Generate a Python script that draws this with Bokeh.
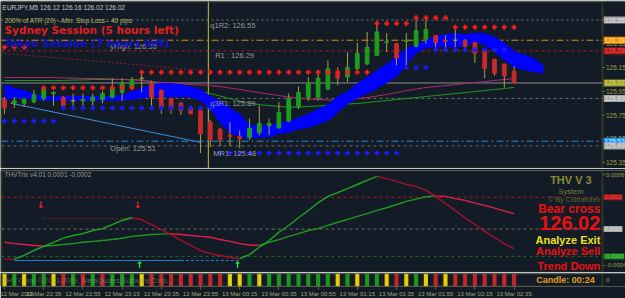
from bokeh.plotting import figure
from bokeh.layouts import column
from bokeh.models import Span, Label, FixedTicker, Range1d, BoxAnnotation
from bokeh.core.properties import value
from bokeh.embed import file_html
from bokeh.resources import INLINE

# ---------------- data ----------------
time_label_idx = [0, 4, 8, 12, 16, 20, 24, 28, 32, 36, 40, 44, 48, 52]
time_labels = ["12 Mar 2009", "12 Mar 22:35", "12 Mar 22:55", "12 Mar 23:15", "12 Mar 23:35",
               "12 Mar 23:55", "13 Mar 00:15", "13 Mar 00:35", "13 Mar 00:55", "13 Mar 01:15",
               "13 Mar 01:35", "13 Mar 01:55", "13 Mar 02:15", "13 Mar 02:35"]

opens = [125.88, 125.85, 125.85, 125.86, 125.89, 125.93, 125.90, 125.87, 125.87, 125.87, 125.88, 125.90, 125.94,
         125.98, 126.06, 126.02, 125.96, 125.89, 125.85, 125.81, 125.79, 125.69, 125.63, 125.58, 125.57, 125.56,
         125.60, 125.66, 125.64, 125.70, 125.82, 125.90, 125.90, 125.97, 126.10, 126.07, 126.14, 126.18, 126.25,
         126.36, 126.35, 126.37, 126.33, 126.39, 126.42, 126.38, 126.38, 126.38, 126.36, 126.29, 126.22, 126.18, 126.12]
highs = [125.90, 125.90, 125.89, 125.96, 125.98, 125.95, 125.91, 125.93, 125.93, 125.93, 125.95, 126.06, 126.06,
         126.07, 126.10, 126.04, 125.96, 125.89, 125.86, 125.83, 125.80, 125.71, 125.64, 125.69, 125.62, 125.72,
         125.83, 125.72, 125.86, 125.93, 125.99, 126.07, 126.12, 126.21, 126.15, 126.28, 126.36, 126.45, 126.52,
         126.44, 126.36, 126.44, 126.55, 126.56, 126.42, 126.42, 126.47, 126.39, 126.36, 126.31, 126.22, 126.18, 126.16]
lows = [125.76, 125.81, 125.82, 125.85, 125.87, 125.83, 125.80, 125.81, 125.81, 125.81, 125.85, 125.89, 125.87,
        125.97, 125.94, 125.81, 125.76, 125.76, 125.75, 125.76, 125.43, 125.48, 125.49, 125.49, 125.47, 125.54,
        125.58, 125.58, 125.64, 125.69, 125.80, 125.87, 125.87, 125.96, 126.00, 126.03, 126.11, 126.17, 126.25,
        126.28, 126.17, 126.17, 126.32, 126.35, 126.32, 126.32, 126.32, 126.29, 126.19, 126.06, 126.08, 125.98, 126.02]
closes = [125.81, 125.87, 125.88, 125.92, 125.97, 125.94, 125.83, 125.87, 125.88, 125.90, 125.93, 125.98, 126.02,
          126.04, 126.06, 125.90, 125.81, 125.80, 125.79, 125.76, 125.59, 125.54, 125.54, 125.57, 125.55, 125.64,
          125.68, 125.68, 125.77, 125.89, 125.94, 126.02, 126.06, 126.14, 126.06, 126.15, 126.27, 126.32, 126.45,
          126.37, 126.23, 126.38, 126.46, 126.47, 126.36, 126.37, 126.38, 126.33, 126.27, 126.14, 126.10, 126.08, 126.02]

ribbon_top = [126.01, 125.98, 125.96, 125.93, 125.91, 125.91, 125.91, 125.91, 125.91, 125.91, 125.91, 125.91,
              125.92, 125.95, 125.98, 126.01, 126.02, 126.02, 126.01, 125.99, 125.97, 125.91, 125.87, 125.81,
              125.76, 125.67, 125.66, 125.67, 125.69, 125.70, 125.73, 125.76, 125.80, 125.84, 125.91, 125.95,
              126.02, 126.07, 126.13, 126.18, 126.25, 126.31, 126.35, 126.38, 126.42, 126.43, 126.44, 126.43,
              126.44, 126.44, 126.41, 126.36, 126.29, 126.26, 126.23, 126.17]
ribbon_bottom = [125.88, 125.89, 125.89, 125.88, 125.87, 125.87, 125.87, 125.87, 125.87, 125.87, 125.87, 125.87,
                 125.87, 125.88, 125.89, 125.90, 125.90, 125.90, 125.90, 125.90, 125.87, 125.80, 125.68, 125.60,
                 125.56, 125.55, 125.56, 125.56, 125.59, 125.60, 125.63, 125.64, 125.67, 125.70, 125.77, 125.84,
                 125.89, 125.93, 125.97, 126.02, 126.07, 126.17, 126.27, 126.31, 126.32, 126.32, 126.32, 126.33,
                 126.36, 126.34, 126.28, 126.21, 126.15, 126.13, 126.11, 126.10]

ma_slow = [126.066, 126.066, 126.066, 126.066, 126.066, 126.066, 126.062, 126.062, 126.057, 126.057, 126.057,
           126.053, 126.049, 126.045, 126.041, 126.032, 126.024, 126.019, 126.015, 126.007, 126.003, 125.998,
           125.990, 125.977, 125.965, 125.952, 125.939, 125.927, 125.914, 125.902, 125.893, 125.885, 125.881,
           125.876, 125.876, 125.881, 125.889, 125.897, 125.910, 125.923, 125.939, 125.956, 125.969, 125.982,
           125.990, 125.998, 126.007, 126.015, 126.024, 126.032, 126.041, 126.049, 126.057]
ma_fast = [126.041, 126.041, 126.041, 126.041, 126.041, 126.041, 126.041, 126.045, 126.045, 126.049, 126.049,
           126.049, 126.049, 126.049, 126.045, 126.032, 126.015, 125.998, 125.982, 125.965, 125.948, 125.931,
           125.910, 125.889, 125.868, 125.851, 125.838, 125.830, 125.822, 125.817, 125.817, 125.822, 125.826,
           125.830, 125.838, 125.843, 125.847, 125.855, 125.864, 125.872, 125.881, 125.889, 125.897, 125.906,
           125.914, 125.923, 125.931, 125.939, 125.948, 125.956, 125.965, 125.973, 125.982]

trend_x = [0.6, 20.0]
trend_y = [125.85, 125.52]
diag_x = [0.0, 21.0]
diag_y = [126.27, 126.12]
day_separator = 20.8

red_stop_x = [0, 1, 2, 4, 5, 6, 7, 8, 9, 10, 11, 12, 13, 14, 15, 16, 17, 18, 19, 20, 21, 22, 23, 24, 25, 26, 27,
              28, 29, 30, 31, 32, 33, 34, 35, 36, 37, 38, 39, 40, 41, 42, 43, 44, 45, 46, 47, 48, 49, 50, 51, 52]
red_stop_y = [126.32, 126.32, 126.32, 125.98, 125.98, 125.98, 125.98, 125.98, 125.98, 125.98, 125.98, 125.98,
              125.98, 126.11, 126.11, 126.11, 126.11, 126.11, 126.11, 126.11, 126.11, 126.11, 126.11, 126.11,
              126.11, 126.11, 126.11, 126.11, 126.11, 126.11, 126.11, 126.11, 126.11, 126.11, 126.11, 126.11,
              126.11, 126.52, 126.52, 126.52, 126.52, 126.57, 126.57, 126.57, 126.57, 126.49, 126.49, 126.49,
              126.49, 126.49, 126.49, 126.49]
blue_stop_x = [0, 1, 2, 3, 4, 5, 6, 7, 8, 9, 10, 11, 12, 13, 14, 15, 16, 17, 18, 19, 20, 21, 22, 23, 24, 25, 26,
               27, 28, 29, 30, 31, 32, 33, 34, 35, 36, 37, 38, 39, 40, 41, 42, 43, 44, 45, 46, 47, 48, 49, 50, 51]
blue_stop_y = [125.70, 125.70, 125.70, 125.70, 125.70, 125.70, 125.81, 125.81, 125.81, 125.81, 125.81, 125.81,
               125.81, 125.81, 125.81, 125.81, 125.81, 125.81, 125.81, 125.81, 125.81, 125.81, 125.43, 125.43,
               125.43, 125.43, 125.43, 125.43, 125.43, 125.43, 125.43, 125.43, 125.43, 125.43, 125.43, 125.43,
               125.43, 125.43, 125.43, 125.43, 125.43, 126.15, 126.15, 126.15, 126.30, 126.30, 126.30, 126.30,
               126.30, 126.30, 126.30, 126.30]

price_ticks = [125.35, 125.55, 125.75, 125.95, 126.15, 126.35, 126.55]
level_prices = [126.55, 126.38, 126.29, 126.02, 125.89, 125.53, 125.49]
level_texts = ["126.55", "126.38", "126.29", "126.02", "125.89", "125.53", "125.49"]
level_colors = ["#7a7a7a", "#e88a00", "#b01c1c", "#8c8c8c", "#6c6c6c", "#2a8ad8", "#6c6c6c"]
level_dashes = ["2 3", "7 3 2 3", "3 3", "solid", "3 3", "7 3 2 3", "3 3"]
level_box_bg = ["#a6a6a6", "#f39200", "#a81a1a", "#9c9c32", "#a6a6a6", "#1e90ff", "#a6a6a6"]
level_box_fg = ["#e8e8e8", "#ffe0a0", "#ff5050", "#e0e070", "#e8e8e8", "#d8ecff", "#e8e8e8"]

pivot_names = ["q1R2: 126.55", "R1 : 126.29", "q3R1: 125.89", "MR1: 125.48", "Open: 125.51", "yHigh: 126.36"]
pivot_x = [21.0, 21.5, 21.0, 21.3, 10.8, 10.8]
pivot_y = [126.50, 126.25, 125.85, 125.43, 125.47, 126.33]

# THV Trix indicator (units of 0.0001)
thv_fast = [-3.3, -3.3, -2.9, -2.35, -1.9, -1.45, -1.0, -0.7, -0.5, -0.15, 0.05, 0.5, 0.95, 1.25, 1.05, 0.5,
            -0.05, -0.6, -1.25, -1.8, -2.35, -2.7, -2.9, -3.1, -3.25, -2.8, -2.0, -1.25, -0.35, 0.4, 1.25, 2.05,
            2.9, 3.6, 4.0, 4.45, 4.9, 5.35, 5.8, 5.55, 5.25, 4.9, 4.7, 4.25, 3.6, 2.8, 2.05, 1.25, 0.5, -0.25,
            -0.9, -1.6, -2.15]
thv_slow = [-1.45, -1.6, -1.7, -1.8, -1.85, -1.8, -1.7, -1.6, -1.45, -1.35, -1.25, -1.15, -1.0, -0.8, -0.7,
            -0.6, -0.55, -0.5, -0.6, -0.7, -0.8, -0.9, -1.15, -1.35, -1.6, -1.75, -1.8, -1.45, -1.15, -0.8, -0.5,
            -0.15, 0.05, 0.4, 0.75, 1.05, 1.4, 1.7, 2.05, 2.35, 2.7, 3.05, 3.3, 3.55, 3.65, 3.6, 3.35, 3.15, 2.85,
            2.6, 2.3, 2.0, 1.7]
base_solid_x = [1, 18]
base_dash_x = [18, 24]
base_level = [-3.45, -3.45]
pending_x = [4, 13.6]
pending_y = [1.15, 1.15]
thv_levels = [3.5, 0.0, -3.0]
thv_level_colors = ["#a81a1a", "#707070", "#1c6e1c"]
thv_level_texts = ["0.0003", "0.0000", "-0.0003"]
thv_box_bg = ["#a81a1a", "#a6a6a6", "#1f8a1f"]
thv_box_fg = ["#ff5050", "#e8e8e8", "#60e060"]
thv_ticks = [6, -4]
thv_tick_texts = ["0.0006", "-0.0004"]
arrow_down_x = [3.7, 13.6]
arrow_down_y = [2.6, 2.6]
arrow_up_x = [13.8, 23.8]
arrow_up_y = [-3.9, -3.9]

signal = ["Y", "G", "Y", "G", "G", "Y", "R", "G", "R", "G", "R", "G", "G", "G", "Y", "R", "R", "R", "R", "R",
          "R", "R", "R", "Y", "Y", "G", "Y", "G", "G", "G", "G", "G", "G", "G", "Y", "G", "Y", "G", "G", "Y",
          "R", "Y", "G", "Y", "R", "Y", "R", "R", "R", "R", "R", "R", "R"]

# ---------------- style / layout constants ----------------
BG = "#131c26"
FRAME = "#6e6e1e"
OLIVE = "#a8a23c"
GREEN = "#1c9e1c"
RED = "#c82a2a"
FONT = "Liberation Sans"
X_LEFT, X_RIGHT = -0.41, 63.37      # whole window width, in bar units
PANEL_L, PANEL_R = -0.31, 61.02     # chart frame edges (price scale sits right of PANEL_R)

xr = Range1d(X_LEFT, X_RIGHT)


def base_fig(height, y_range, top, bottom, xloc=None):
    p = figure(width=625, height=height, x_range=xr, y_range=y_range, output_backend="svg",
               toolbar_location=None, tools="", y_axis_location=None, x_axis_location=xloc,
               min_border_left=0, min_border_right=0, min_border_top=top, min_border_bottom=bottom,
               background_fill_color=BG, border_fill_color=BG, outline_line_color=None)
    p.grid.grid_line_color = None
    p.add_layout(BoxAnnotation(left=PANEL_L, right=PANEL_R, fill_alpha=0, line_color=FRAME, line_width=2,
                               level="overlay"))
    return p


def add_text(p, x, y, text, color, size, bold=False, align="left", font=FONT, alpha=1.0, bg=None):
    kw = {}
    if bg is not None:
        kw = dict(background_fill_color=bg, padding=1)
    p.add_layout(Label(x=x, y=y, text=text, text_color=color, text_font_size=size, text_font=font,
                       text_font_style="bold" if bold else "normal", text_align=align,
                       text_baseline="middle", text_alpha=alpha, **kw))


def price_scale(p, ticks, texts, size):
    p.segment(x0=[PANEL_R] * len(ticks), y0=ticks, x1=[PANEL_R + 0.28] * len(ticks), y1=ticks,
              line_color=FRAME, line_width=1)
    for t, s in zip(ticks, texts):
        add_text(p, PANEL_R + 0.35, t, s, "#a0a040", size)


def level_lines(p, levels, colors, dashes):
    for lv, c, d in zip(levels, colors, dashes):
        p.segment(x0=[PANEL_L], y0=[lv], x1=[PANEL_R], y1=[lv], line_color=c, line_dash=d, line_width=1)


# ---------------- main price panel ----------------
p1 = base_fig(168, Range1d(125.30, 126.706), 1, 0)
level_lines(p1, level_prices, level_colors, level_dashes)
p1.add_layout(Span(location=day_separator, dimension="height", line_color="#c8c040", line_width=1, level="underlay"))

p1.line(diag_x, diag_y, line_color="#8e1c28", line_dash="2 2", line_width=1)
p1.line(trend_x, trend_y, line_color="#3a90d8", line_width=1)
p1.line(list(range(len(ma_fast))), ma_fast, line_color="#1f9a1f", line_width=1)
p1.line(list(range(len(ma_slow))), ma_slow, line_color="#b02a6e", line_width=1)
p1.varea(x=list(range(len(ribbon_top))), y1=ribbon_bottom, y2=ribbon_top, fill_color="#0000ff")

idx = list(range(len(opens)))
body_col = [GREEN if c > o else (RED if c < o else OLIVE) for o, c in zip(opens, closes)]
p1.segment(x0=idx, y0=lows, x1=idx, y1=highs, line_color=OLIVE, line_width=1)
p1.vbar(x=idx, width=0.38, top=[max(o, c) for o, c in zip(opens, closes)],
        bottom=[min(o, c) for o, c in zip(opens, closes)], fill_color=body_col, line_color=body_col)

p1.scatter(red_stop_x, red_stop_y, marker="cross", size=5, line_width=2, line_color="#ff1a1a")
p1.scatter(blue_stop_x, blue_stop_y, marker="cross", size=5, line_width=2, line_color="#1a1aff")

for nm, x, y in zip(pivot_names, pivot_x, pivot_y):
    add_text(p1, x, y, nm, "#9a9a9a", "7.5px")

add_text(p1, -0.2, 126.655, "EURJPY,M5  126.12 126.16 126.02 126.02", "#c8c8c8", "6.5px")
add_text(p1, 0.0, 126.546, "200% of ATR (20)   --Min. Stop Loss--   40 pips", "#b8b860", "6.5px")
add_text(p1, 0.0, 126.47, "Sydney Session (5 hours left)", "#e02020", "10.5px", bold=True, font="DejaVu Sans")
add_text(p1, 0.0, 126.36, "Tokyo Session (7 hours left)", "#1010d8", "10.5px", bold=True, font="DejaVu Sans")

price_scale(p1, price_ticks, [f"{t:.2f}" for t in price_ticks], "6.5px")
for pr, t, bg, fg in zip(level_prices, level_texts, level_box_bg, level_box_fg):
    add_text(p1, PANEL_R + 0.12, pr, t, fg, "6.5px", bg=bg)

# ---------------- THV Trix panel ----------------
p2 = base_fig(104, Range1d(-4.77, 6.44), 2, 0)
level_lines(p2, thv_levels, thv_level_colors, ["3 3", "3 3", "3 3"])

p2.line(base_solid_x, base_level, line_color="#1e7fd0", line_width=1.2)
p2.line(base_dash_x, base_level, line_color="#1e7fd0", line_width=1.2, line_dash="3 2")
p2.line(pending_x, pending_y, line_color="#8e1c28", line_width=1, line_dash="2 2")


def colored_line(p, vals, up, down, width):
    x0 = list(range(len(vals) - 1))
    x1 = list(range(1, len(vals)))
    cols = [up if b > a else down for a, b in zip(vals[:-1], vals[1:])]
    p.segment(x0=x0, y0=vals[:-1], x1=x1, y1=vals[1:], line_color=cols, line_width=width)


colored_line(p2, thv_slow, "#1f9a1f", "#e0204c", 1.4)
colored_line(p2, thv_fast, "#22a822", "#a8102c", 1.4)

p2.text(x=arrow_down_x, y=arrow_down_y, text=["↓"] * len(arrow_down_x), text_color="#ff2020",
        text_font=value("DejaVu Sans"), text_font_size="9px", text_font_style="bold",
        text_align="center", text_baseline="middle")
p2.text(x=arrow_up_x, y=arrow_up_y, text=["↑"] * len(arrow_up_x), text_color="#20ff40",
        text_font=value("DejaVu Sans"), text_font_size="9px", text_font_style="bold",
        text_align="center", text_baseline="middle")

add_text(p2, 0.0, 5.95, "THVTrix v4.01 0.0001 -0.0002", "#9a9a9a", "6.5px")
add_text(p2, 57.8, 5.45, "THV V 3", "#8a8a30", "11px", bold=True, align="center")
add_text(p2, 57.8, 4.13, "System", "#7a7a3a", "7.5px", align="center")
add_text(p2, 60.8, 3.25, "© By Cobraforex", "#5c6a2a", "7px", align="right")
add_text(p2, 60.8, 2.26, "Bear cross", "#e81010", "12px", bold=True, align="right")
add_text(p2, 60.8, 0.72, "126.02", "#e81010", "20px", bold=True, align="right")
add_text(p2, 60.8, -1.25, "Analyze Exit", "#f0e020", "11px", bold=True, align="right")
add_text(p2, 60.8, -2.46, "Analyze Sell", "#e81010", "11px", bold=True, align="right")
add_text(p2, 60.8, -4.11, "Trend Down", "#e81010", "11px", bold=True, align="right")

price_scale(p2, thv_ticks, thv_tick_texts, "6px")
for lv, t, bg, fg in zip(thv_levels, thv_level_texts, thv_box_bg, thv_box_fg):
    add_text(p2, PANEL_R + 0.12, lv, t, fg, "5.5px", bg=bg)

# ---------------- signal strip + time axis ----------------
p3 = base_fig(27, Range1d(0, 1), 1, 12, xloc="below")
sig_col = {"Y": "#e8d000", "G": "#1a9a1a", "R": "#c02828"}
p3.vbar(x=list(range(len(signal))), width=0.42, top=1, bottom=0,
        fill_color=[sig_col[s] for s in signal], line_color=None)
add_text(p3, -0.2, 0.5, "THV Coral © 2001-2009, MetaQuotes Software Corp.", "#9a9a70", "7px", alpha=0.55)
add_text(p3, 60.5, 0.5, "Candle:  00:24", "#e0a020", "9px", bold=True, align="right")
add_text(p3, PANEL_R + 0.35, 0.5, "0", "#a0a040", "6px")

xa = p3.xaxis[0]
xa.ticker = FixedTicker(ticks=time_label_idx)
xa.major_label_overrides = {i: s for i, s in zip(time_label_idx, time_labels)}
xa.major_label_text_align = "left"
xa.major_label_text_font_size = "6px"
xa.major_label_text_font = FONT
xa.major_label_text_color = "#a8a070"
xa.major_label_standoff = 1
xa.major_tick_out = 3
xa.major_tick_in = 0
xa.minor_tick_line_color = None
xa.major_tick_line_color = FRAME
xa.axis_line_color = None

layout = column(p1, p2, p3, spacing=0)
open("out.html", "w").write(file_html(layout, INLINE))
